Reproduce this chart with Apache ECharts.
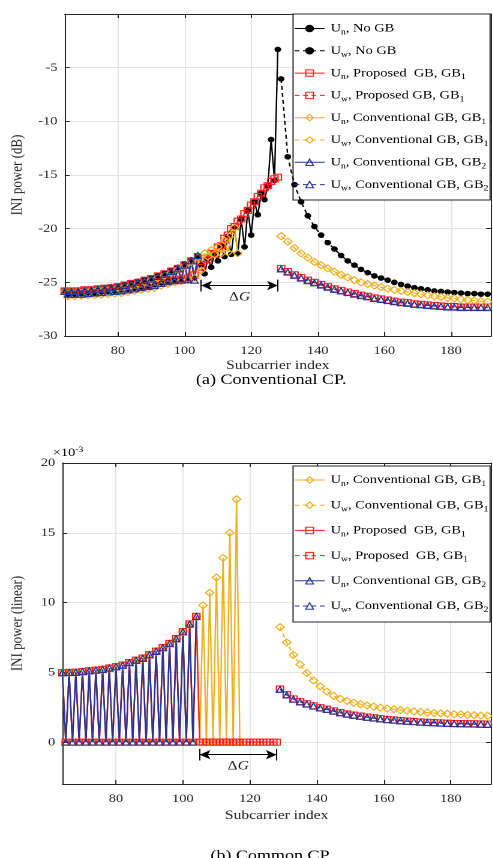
<!DOCTYPE html>
<html>
<head>
<meta charset="utf-8">
<title>INI power</title>
<script src="https://cdn.jsdelivr.net/npm/echarts@6/dist/echarts.min.js"></script>
<style>
html, body { margin: 0; padding: 0; background: #fff; overflow: hidden; }
/* the source figure is stretched sideways, so the chart is drawn narrower and widened */
#chart { width: 411px; height: 858px; transform: scaleX(1.2); transform-origin: 0 0; }
</style>
</head>
<body>
<div id="chart"></div>
<script>
// subcarrier index of each point
var unIdx = [64, 65, 66, 67, 68, 69, 70, 71, 72, 73, 74, 75, 76, 77, 78, 79, 80, 81, 82, 83,
  84, 85, 86, 87, 88, 89, 90, 91, 92, 93, 94, 95, 96, 97, 98, 99, 100, 101, 102, 103,
  104, 105, 106, 107, 108, 109, 110, 111, 112, 113, 114, 115, 116, 117, 118, 119, 120, 121, 122, 123,
  124, 125, 126, 127, 128]
var uwIdx = [129, 131, 133, 135, 137, 139, 141, 143, 145, 147, 149, 151, 153, 155, 157, 159,
  161, 163, 165, 167, 169, 171, 173, 175, 177, 179, 181, 183, 185, 187, 189, 191]

var xTicks = [80, 100, 120, 140, 160, 180]
var dbTicks = [-30, -25, -20, -15, -10, -5]
var linTicks = [0, 5, 10, 15, 20]
var gapSpan = [105, 128]

// (a) conventional CP, dB
var blackUnA = [-25.8, -26.1, -25.8, -26.1, -25.75, -26.05, -25.7, -26.0, -25.65, -26.0,
  -25.6, -25.9, -25.5, -25.85, -25.45, -25.8, -25.35, -25.7, -25.2, -25.65,
  -25.05, -25.55, -24.9, -25.45, -24.75, -25.35, -24.6, -25.2, -24.4, -25.05,
  -24.15, -24.9, -23.9, -24.8, -23.6, -24.75, -23.3, -24.7, -22.9, -24.6,
  -22.5, -23.4, -24.2, -22.8, -23.6, -22.3, -23.0, -21.6, -22.6, -20.7,
  -22.4, -19.9, -22.3, -19.1, -21.7, -18.3, -20.6, -17.5, -18.7, -16.7,
  -17.3, -16.0, -11.7, -15.5, -3.3]
var blackUwA = [-6.05, -13.3, -15.9, -17.5, -18.8, -19.8, -20.6, -21.3, -21.9, -22.5,
  -23.0, -23.4, -23.8, -24.1, -24.4, -24.6, -24.8, -25.0, -25.2, -25.35,
  -25.5, -25.6, -25.7, -25.8, -25.85, -25.9, -25.95, -26.0, -26.05, -26.05, -26.1, -26.1]
var redUnA = [-25.8, -26.15, -25.8, -26.1, -25.8, -26.1, -25.7, -26.05, -25.7, -26.0,
  -25.6, -25.95, -25.55, -25.9, -25.5, -25.8, -25.4, -25.75, -25.25, -25.7,
  -25.1, -25.6, -25.0, -25.45, -24.8, -25.35, -24.65, -25.25, -24.4, -25.1,
  -24.2, -24.9, -23.95, -24.8, -23.7, -24.7, -23.35, -24.6, -23.0, -24.3,
  -22.6, -23.6, -22.8, -22.9, -22.3, -22.4, -21.7, -21.6, -20.9, -20.6,
  -20.0, -19.8, -19.3, -19.1, -18.6, -18.3, -17.8, -17.5, -17.0, -16.7,
  -16.2, -16.0, -15.6, -15.35, -15.2]
var redUwA = [-23.7, -24.0, -24.3, -24.55, -24.8, -25.0, -25.2, -25.4, -25.6, -25.75,
  -25.9, -26.05, -26.2, -26.3, -26.45, -26.55, -26.65, -26.75, -26.85, -26.9,
  -27.0, -27.05, -27.1, -27.15, -27.2, -27.25, -27.25, -27.3, -27.3, -27.3, -27.3, -27.3]
var yellowUnA = [-25.9, -26.3, -25.9, -26.3, -25.85, -26.25, -25.8, -26.2, -25.75, -26.2,
  -25.7, -26.15, -25.65, -26.1, -25.6, -26.05, -25.5, -26.0, -25.4, -25.9,
  -25.3, -25.8, -25.15, -25.7, -25.0, -25.6, -24.8, -25.5, -24.6, -25.3,
  -24.35, -25.15, -24.1, -25.0, -23.8, -24.9, -23.5, -24.8, -23.1, -24.6,
  -22.7, -23.9, -22.3, -22.6, -22.0, -22.4, -21.7, -22.3, -21.1, -22.2,
  -20.6, -19.9, -22.3]
var yellowUwA = [-20.7, -21.2, -21.8, -22.3, -22.7, -23.1, -23.4, -23.7, -24.0, -24.3,
  -24.55, -24.8, -25.0, -25.15, -25.3, -25.45, -25.6, -25.7, -25.8, -25.9,
  -26.0, -26.1, -26.2, -26.3, -26.35, -26.45, -26.5, -26.6, -26.65, -26.7, -26.75, -26.8]
var blueUnA = [-25.85, -26.1, -25.85, -26.1, -25.8, -26.1, -25.75, -26.05, -25.7, -26.0,
  -25.65, -25.95, -25.6, -25.9, -25.5, -25.85, -25.4, -25.8, -25.3, -25.7,
  -25.15, -25.6, -25.0, -25.5, -24.85, -25.4, -24.7, -25.3, -24.45, -25.1,
  -24.25, -24.95, -24.0, -24.85, -23.75, -24.8, -23.4, -24.75, -23.0, -24.8,
  -22.5]
var blueUwA = [-23.75, -24.05, -24.35, -24.6, -24.85, -25.05, -25.25, -25.45, -25.65, -25.8,
  -25.95, -26.1, -26.25, -26.35, -26.5, -26.6, -26.7, -26.8, -26.9, -26.95,
  -27.05, -27.1, -27.15, -27.2, -27.25, -27.3, -27.3, -27.35, -27.35, -27.35, -27.35, -27.35]

// (b) common CP, linear x 1e-3
var yellowUnB = [4.97, 0, 4.98, 0, 5.0, 0, 5.05, 0, 5.1, 0,
  5.15, 0, 5.2, 0, 5.3, 0, 5.4, 0, 5.5, 0,
  5.69, 0, 5.86, 0, 6.0, 0, 6.26, 0, 6.5, 0,
  6.76, 0, 7.05, 0, 7.4, 0, 7.9, 0, 8.45, 0,
  9.0, 0, 9.8, 0, 10.7, 0, 11.8, 0, 13.2, 0,
  15.0, 0, 17.4, 0]
var yellowUwB = [8.24, 7.15, 6.25, 5.55, 4.95, 4.42, 4.0, 3.62, 3.32, 3.1,
  2.95, 2.82, 2.72, 2.63, 2.55, 2.47, 2.41, 2.36, 2.3, 2.25,
  2.2, 2.16, 2.12, 2.09, 2.06, 2.03, 2.0, 1.98, 1.95, 1.93, 1.91, 1.89]
var redUnB = [4.98, 0, 4.99, 0, 5.01, 0, 5.06, 0, 5.11, 0,
  5.16, 0, 5.22, 0, 5.31, 0, 5.41, 0, 5.52, 0,
  5.7, 0, 5.87, 0, 6.02, 0, 6.27, 0, 6.52, 0,
  6.78, 0, 7.07, 0, 7.42, 0, 7.92, 0, 8.47, 0,
  9.02, 0, 0, 0, 0, 0, 0, 0, 0, 0,
  0, 0, 0, 0, 0, 0, 0, 0, 0, 0,
  0, 0, 0, 0, 0]
var redUwB = [3.8, 3.4, 3.1, 2.9, 2.75, 2.6, 2.47, 2.36, 2.24, 2.12,
  2.02, 1.94, 1.87, 1.8, 1.74, 1.68, 1.63, 1.59, 1.55, 1.51,
  1.48, 1.45, 1.42, 1.4, 1.38, 1.36, 1.34, 1.33, 1.32, 1.31, 1.3, 1.29]
var blueUnB = [4.97, 0, 4.98, 0, 5.0, 0, 5.05, 0, 5.1, 0,
  5.15, 0, 5.2, 0, 5.3, 0, 5.4, 0, 5.5, 0,
  5.69, 0, 5.86, 0, 6.0, 0, 6.26, 0, 6.5, 0,
  6.76, 0, 7.05, 0, 7.4, 0, 7.9, 0, 8.45, 0,
  9.0]
var blueUwB = [3.78, 3.38, 3.08, 2.88, 2.73, 2.58, 2.45, 2.34, 2.22, 2.1,
  2.0, 1.92, 1.85, 1.78, 1.72, 1.66, 1.61, 1.57, 1.53, 1.49,
  1.46, 1.43, 1.4, 1.38, 1.36, 1.34, 1.32, 1.31, 1.3, 1.29, 1.28, 1.27]

var FONT = '"Liberation Serif", "Times New Roman", serif'
var INK = '#262626'
var GRID_C = '#e4e4e4'
var BLACK = '#000000'
var RED = '#ff1f1f'
var YELLOW = '#edb120'
var BLUE = '#2a3594'

function pairs(idx, vals) {
  return vals.map(function(v, i) {
    return [idx[i], v]
  })
}

// "U_n, ... GB_1" -> rich text with subscripts
function subName(name) {
  return name.split(/_(\w)/).map(function(p, i) {
    if (p === '') return ''
    return i % 2 ? '{s|' + p + '}' : '{t|' + p + '}'
  }).join('')
}

function mkLine(name, idx, vals, color, symbol, size, dashed, axis) {
  return {
    name: name,
    type: 'line',
    xAxisIndex: axis,
    yAxisIndex: axis,
    data: pairs(idx, vals),
    symbol: symbol,
    symbolSize: size,
    showAllSymbol: true,
    lineStyle: { color: color, width: 1.2, type: dashed ? [4, 3] : 'solid' },
    itemStyle: {
      color: symbol === 'circle' ? color : 'rgba(255,255,255,0)',
      borderColor: color,
      borderWidth: 1.1
    },
    emphasis: { disabled: true }
  }
}

// ΔG arrow with end bars
function gapMarker(axis, level, barHalf) {
  var lineC = { color: BLACK, width: 1, type: 'solid' }
  return {
    name: 'gap',
    type: 'line',
    xAxisIndex: axis,
    yAxisIndex: axis,
    data: [],
    silent: true,
    markLine: {
      silent: true,
      animation: false,
      lineStyle: lineC,
      data: [
        [{ coord: [gapSpan[0], level], symbol: 'arrow', symbolSize: [7, 9] },
          { coord: [gapSpan[1], level], symbol: 'arrow', symbolSize: [7, 9],
            label: {
              show: true,
              position: 'insideMiddleBottom',
              distance: 5,
              formatter: '{d|Δ}{g|G}',
              rich: {
                d: { fontFamily: FONT, fontSize: 13, color: INK },
                g: { fontFamily: FONT, fontSize: 13, color: INK, fontStyle: 'italic' }
              }
            } }],
        [{ coord: [gapSpan[0], level + barHalf], symbol: 'none', label: { show: false } },
          { coord: [gapSpan[0], level - barHalf], symbol: 'none' }],
        [{ coord: [gapSpan[1], level + barHalf], symbol: 'none', label: { show: false } },
          { coord: [gapSpan[1], level - barHalf], symbol: 'none' }]
      ],
      label: { show: false }
    }
  }
}

function xAxes(grid, nameGap) {
  return [{
    gridIndex: grid,
    type: 'value',
    min: 64,
    max: 192,
    axisLine: { onZero: false, lineStyle: { color: INK, width: 1 } },
    axisTick: { inside: true, length: 4, customValues: xTicks, lineStyle: { color: INK } },
    axisLabel: { customValues: xTicks, fontFamily: FONT, fontSize: 12, color: INK, margin: 9 },
    splitLine: { show: true, lineStyle: { color: GRID_C } },
    name: 'Subcarrier index',
    nameLocation: 'middle',
    nameGap: nameGap,
    nameTextStyle: { fontFamily: FONT, fontSize: 13, color: INK }
  }, {
    gridIndex: grid,
    type: 'value',
    min: 64,
    max: 192,
    position: 'top',
    axisLine: { onZero: false, lineStyle: { color: INK, width: 1 } },
    axisTick: { inside: true, length: 4, customValues: xTicks, lineStyle: { color: INK } },
    axisLabel: { show: false },
    splitLine: { show: false }
  }]
}

function yAxes(grid, min, max, ticks, name) {
  return [{
    gridIndex: grid,
    type: 'value',
    min: min,
    max: max,
    axisLine: { show: true, onZero: false, lineStyle: { color: INK, width: 1 } },
    axisTick: { show: true, inside: true, length: 4, customValues: ticks, lineStyle: { color: INK } },
    axisLabel: { customValues: ticks, fontFamily: FONT, fontSize: 12, color: INK, margin: 6 },
    splitLine: { show: true, lineStyle: { color: GRID_C } },
    name: name,
    nameLocation: 'middle',
    nameGap: 31,
    nameRotate: 90,
    nameTextStyle: { fontFamily: FONT, fontSize: 13, color: INK }
  }, {
    gridIndex: grid,
    type: 'value',
    min: min,
    max: max,
    position: 'right',
    axisLine: { show: true, onZero: false, lineStyle: { color: INK, width: 1 } },
    axisTick: { show: true, inside: true, length: 4, customValues: ticks, lineStyle: { color: INK } },
    axisLabel: { show: false },
    splitLine: { show: false }
  }]
}

var legendRich = {
  t: { fontFamily: FONT, fontSize: 12, color: '#000', lineHeight: 16 },
  s: { fontFamily: FONT, fontSize: 8, color: '#000', lineHeight: 8, verticalAlign: 'bottom' }
}

function mkLegend(names, top, gap) {
  return {
    data: names,
    orient: 'vertical',
    left: 245,
    top: top,
    padding: 0,
    itemWidth: 25,
    itemHeight: 8,
    itemGap: gap,
    selectedMode: false,
    itemStyle: { borderWidth: 1 },
    lineStyle: { width: 1 },
    formatter: subName,
    textStyle: { rich: legendRich },
    z: 5
  }
}

var namesA = ['U_n, No GB', 'U_w, No GB', 'U_n, Proposed  GB, GB_1', 'U_w, Proposed GB, GB_1',
  'U_n, Conventional GB, GB_1', 'U_w, Conventional GB, GB_1',
  'U_n, Conventional GB, GB_2', 'U_w, Conventional GB, GB_2']
var namesB = ['U_n, Conventional GB, GB_1', 'U_w, Conventional GB, GB_1',
  'U_n, Proposed  GB, GB_1', 'U_w, Proposed  GB, GB_1',
  'U_n, Conventional GB, GB_2', 'U_w, Conventional GB, GB_2']

var chart = echarts.init(document.getElementById('chart'), null, { devicePixelRatio: 2 })

chart.setOption({
  animation: false,
  backgroundColor: '#fff',
  grid: [
    { left: 43.3, top: 14, width: 365.8, height: 322 },
    { left: 43.3, top: 463, width: 365.8, height: 321 }
  ],
  xAxis: xAxes(0, 23).concat(xAxes(1, 25)),
  yAxis: yAxes(0, -30, 0, dbTicks, 'INI power (dB)').concat(yAxes(1, -3, 20, linTicks, 'INI power (linear)')),
  legend: [mkLegend(namesA, 22.5, 8.3), mkLegend(namesB, 474, 11.2)],
  graphic: [
    { type: 'rect', z: 3, shape: { x: 244.2, y: 14, width: 164.2, height: 186 },
      style: { fill: '#fff', stroke: INK, lineWidth: 1 } },
    { type: 'rect', z: 3, shape: { x: 244.2, y: 466, width: 164.2, height: 156 },
      style: { fill: '#fff', stroke: INK, lineWidth: 1 } },
    { type: 'text', x: 44, y: 446, z: 3,
      style: {
        text: '{a|×10}{b|-3}',
        rich: {
          a: { fontFamily: FONT, fontSize: 12, color: INK, lineHeight: 14 },
          b: { fontFamily: FONT, fontSize: 8, color: INK, lineHeight: 8, verticalAlign: 'top' }
        }
      } },
    { type: 'text', x: 226, y: 380, z: 3,
      style: { text: '(a) Conventional CP.', fontFamily: FONT, fontSize: 15, fill: '#000',
        align: 'center', verticalAlign: 'middle' } },
    { type: 'text', x: 226, y: 856, z: 3,
      style: { text: '(b) Common CP.', fontFamily: FONT, fontSize: 15, fill: '#000',
        align: 'center', verticalAlign: 'middle' } }
  ],
  series: [
    mkLine(namesA[0], unIdx, blackUnA, BLACK, 'circle', 4.5, false, 0),
    mkLine(namesA[1], uwIdx, blackUwA, BLACK, 'circle', 4.5, true, 0),
    mkLine(namesA[2], unIdx, redUnA, RED, 'rect', 6, false, 0),
    mkLine(namesA[3], uwIdx, redUwA, RED, 'rect', 6, true, 0),
    mkLine(namesA[4], unIdx, yellowUnA, YELLOW, 'diamond', 7, false, 0),
    mkLine(namesA[5], uwIdx, yellowUwA, YELLOW, 'diamond', 7, true, 0),
    mkLine(namesA[6], unIdx, blueUnA, BLUE, 'triangle', 6, false, 0),
    mkLine(namesA[7], uwIdx, blueUwA, BLUE, 'triangle', 6, true, 0),
    gapMarker(0, -25.3, 0.55),

    mkLine(namesB[0], unIdx, yellowUnB, YELLOW, 'diamond', 7, false, 2),
    mkLine(namesB[1], uwIdx, yellowUwB, YELLOW, 'diamond', 7, true, 2),
    mkLine(namesB[2], unIdx, redUnB, RED, 'rect', 6, false, 2),
    mkLine(namesB[3], uwIdx, redUwB, RED, 'rect', 6, true, 2),
    mkLine(namesB[4], unIdx, blueUnB, BLUE, 'triangle', 6, false, 2),
    mkLine(namesB[5], uwIdx, blueUwB, BLUE, 'triangle', 6, true, 2),
    gapMarker(2, -0.9, 0.42)
  ]
})
</script>
</body>
</html>
